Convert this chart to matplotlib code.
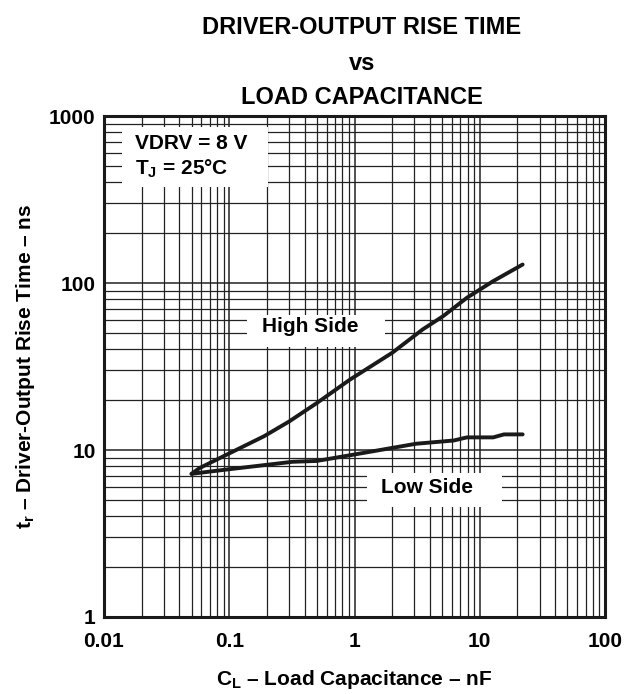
import numpy as np
import matplotlib.pyplot as plt
from matplotlib.patches import Rectangle
from matplotlib.ticker import LogLocator, FixedLocator, FixedFormatter, NullFormatter

# ==========================================
# Data
# ==========================================
high_c = [0.05, 0.058, 0.19, 0.30, 0.50, 0.92, 2.0, 3.5, 5.1, 7.9, 12.8, 22]
high_t = [7.2, 7.8, 12.1, 14.8, 19.1, 26.4, 38.2, 52.7, 63.3, 81.6, 102.6, 129]

low_c = [0.05, 0.09, 0.32, 0.50, 0.92, 3.1, 6.2, 7.9, 12.8, 15.6, 22]
low_t = [7.2, 7.6, 8.5, 8.6, 9.3, 10.9, 11.4, 11.9, 11.9, 12.4, 12.4]

x_ticks = [0.01, 0.1, 1, 10, 100]
x_ticklabels = ['0.01', '0.1', '1', '10', '100']
y_ticks = [1, 10, 100, 1000]
y_ticklabels = ['1', '10', '100', '1000']

plt.rcParams.update({
    'font.family': ['Liberation Sans', 'DejaVu Sans'],
    'font.weight': 'bold',
    'mathtext.fontset': 'custom',
    'mathtext.rm': 'Liberation Sans:bold',
    'mathtext.it': 'Liberation Sans:bold',
    'mathtext.bf': 'Liberation Sans:bold',
})

W, H = 626, 694
fig = plt.figure(figsize=(W / 100, H / 100), dpi=100)
ax = fig.add_axes([104 / W, 1 - 617 / H, 501 / W, 501 / H])

ax.set_xscale('log')
ax.set_yscale('log')
ax.set_xlim(0.01, 100)
ax.set_ylim(1, 1000)

ax.xaxis.set_major_locator(FixedLocator(x_ticks))
ax.xaxis.set_major_formatter(FixedFormatter(x_ticklabels))
ax.yaxis.set_major_locator(FixedLocator(y_ticks))
ax.yaxis.set_major_formatter(FixedFormatter(y_ticklabels))
ax.xaxis.set_minor_locator(LogLocator(base=10, subs=np.arange(2, 10)))
ax.yaxis.set_minor_locator(LogLocator(base=10, subs=np.arange(2, 10)))
ax.xaxis.set_minor_formatter(NullFormatter())
ax.yaxis.set_minor_formatter(NullFormatter())

ax.grid(which='major', color='#222222', linewidth=1.1)
ax.grid(which='minor', color='#222222', linewidth=0.9)
ax.set_axisbelow(True)

ax.tick_params(which='both', length=0)
ax.tick_params(axis='x', pad=11, labelsize=15)
ax.tick_params(axis='y', pad=6, labelsize=15)
for lbl in ax.get_xticklabels() + ax.get_yticklabels():
    lbl.set_fontweight('bold')

for s in ax.spines.values():
    s.set_linewidth(2.2)
    s.set_color('#1a1a1a')
    s.set_zorder(5)

ax.plot(high_c, high_t, color='#1a1a1a', linewidth=2.8, zorder=4, solid_capstyle='round')
ax.plot(low_c, low_t, color='#1a1a1a', linewidth=2.8, zorder=4, solid_capstyle='round')


def white_box(x0, y0, x1, y1):
    # pixel box -> axes fraction
    ax.add_patch(Rectangle(((x0 - 104) / 501, (617 - y1) / 501), (x1 - x0) / 501, (y1 - y0) / 501,
                           transform=ax.transAxes, facecolor='white', edgecolor='none', zorder=2))


white_box(122, 127, 268, 187)
white_box(247, 315, 385, 347)
white_box(367, 473, 502, 507)

ax.text(0.44, 55, 'High Side', fontsize=15, fontweight='bold', ha='center', va='center', zorder=3)
ax.text(3.8, 5.95, 'Low Side', fontsize=15, fontweight='bold', ha='center', va='center', zorder=3)
ax.text(0.062, 0.946, 'VDRV = 8 V', transform=ax.transAxes,
        fontsize=15, fontweight='bold', ha='left', va='center', zorder=3)
ax.text(0.062, 0.894, 'T$_\\mathbf{J}$ = 25°C', transform=ax.transAxes,
        fontsize=15, fontweight='bold', ha='left', va='center', zorder=3)

ax.set_xlabel('C$_\\mathbf{L}$ – Load Capacitance – nF', fontsize=15, fontweight='bold', labelpad=12)
ax.set_ylabel('t$_\\mathbf{r}$ – Driver-Output Rise Time – ns', fontsize=15, fontweight='bold', labelpad=9)

title_x = 362 / W
fig.text(title_x, 1 - 28 / H, 'DRIVER-OUTPUT RISE TIME', ha='center', va='center', fontsize=17, fontweight='bold')
fig.text(title_x, 1 - 64 / H, 'vs', ha='center', va='center', fontsize=17, fontweight='bold')
fig.text(title_x, 1 - 97 / H, 'LOAD CAPACITANCE', ha='center', va='center', fontsize=17, fontweight='bold')

fig.savefig('out.png', dpi=100)
